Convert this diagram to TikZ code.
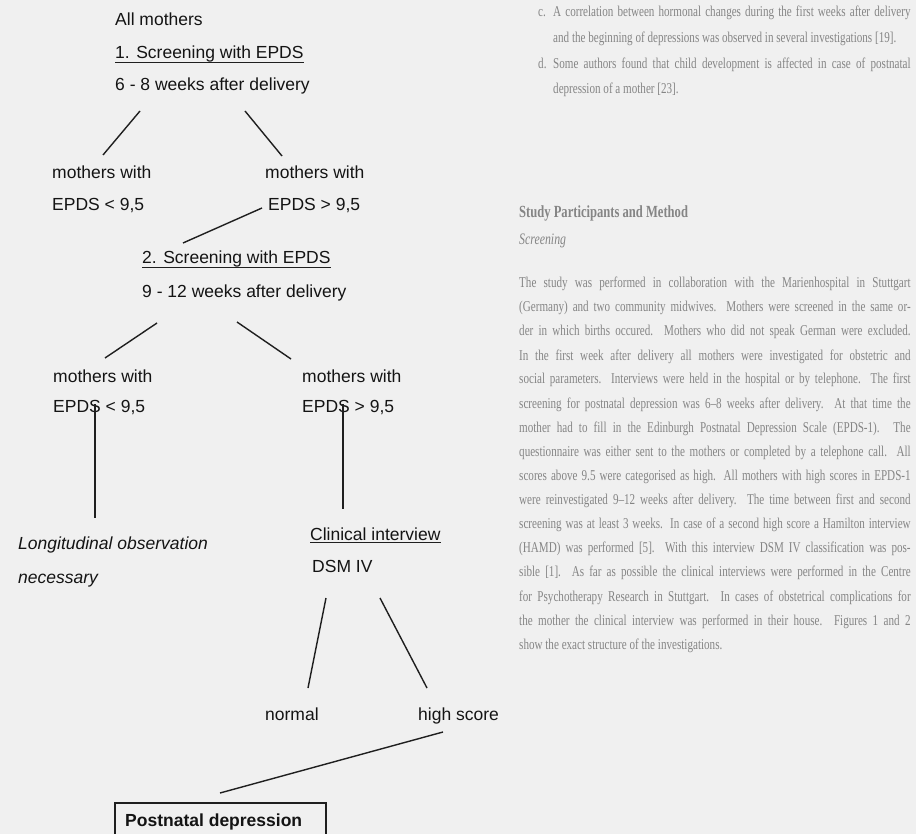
\documentclass[tikz,border=0pt]{standalone}
\usepackage{fontspec}
\setmainfont{Liberation Serif}
\newfontfamily\diafont{Liberation Sans}
\usetikzlibrary{calc}
\newcommand\bgjust[2]{\scalebox{0.74}[1]{\makebox[#1pt][s]{#2}}}
\newcommand\bgnat[1]{\scalebox{0.74}[1]{#1}}
\begin{document}
\begin{tikzpicture}[x=1pt,y=-1pt,
  lbl/.style={font=\diafont\fontsize{17.5}{20}\selectfont, text=black!92, anchor=base west, inner sep=0pt},
  conn/.style={line width=1.4pt, draw=black!88},
  uline/.style={line width=1.1pt, draw=black!88},
  bgt/.style={font=\fontsize{15}{17}\selectfont, text=black!48, anchor=base west, inner sep=0pt}]
\fill[black!6] (0,0) rectangle (916,834);
\useasboundingbox (0,0) rectangle (916,834);
\clip (0,0) rectangle (916,834);

% faint page text in the background
\node[bgt] (bga) at (538,17) {\bgnat{c.}};
\node[bgt] (bg1) at (553,17) {\bgjust{483}{A correlation between hormonal changes during the first weeks after delivery}};
\node[bgt] (bg2) at (553,43) {\bgnat{and the beginning of depressions was observed in several investigations [19].}};
\node[bgt] (bgd) at (538,69) {\bgnat{d.}};
\node[bgt] (bg3) at (553,69) {\bgjust{483}{Some authors found that child development is affected in case of postnatal}};
\node[bgt] (bg4) at (553,94) {\bgnat{depression of a mother [23].}};
\node[bgt, font=\bfseries\fontsize{17}{19}\selectfont] (bgh) at (519,218) {\bgnat{Study Participants and Method}};
\node[bgt, font=\itshape\fontsize{16}{18}\selectfont] (bgs) at (519,245) {\bgnat{Screening}};
\node[bgt] (p1) at (519,288) {\bgjust{529}{The study was performed in collaboration with the Marienhospital in Stuttgart}};
\node[bgt] (p2) at (519,312) {\bgjust{529}{(Germany) and two community midwives. Mothers were screened in the same or-}};
\node[bgt] (p3) at (519,336) {\bgjust{529}{der in which births occured. Mothers who did not speak German were excluded.}};
\node[bgt] (p4) at (519,360) {\bgjust{529}{In the first week after delivery all mothers were investigated for obstetric and}};
\node[bgt] (p5) at (519,384) {\bgjust{529}{social parameters. Interviews were held in the hospital or by telephone. The first}};
\node[bgt] (p6) at (519,408) {\bgjust{529}{screening for postnatal depression was 6–8 weeks after delivery. At that time the}};
\node[bgt] (p7) at (519,432) {\bgjust{529}{mother had to fill in the Edinburgh Postnatal Depression Scale (EPDS-1). The}};
\node[bgt] (p8) at (519,456) {\bgjust{529}{questionnaire was either sent to the mothers or completed by a telephone call. All}};
\node[bgt] (p9) at (519,480) {\bgjust{529}{scores above 9.5 were categorised as high. All mothers with high scores in EPDS-1}};
\node[bgt] (p10) at (519,504) {\bgjust{529}{were reinvestigated 9–12 weeks after delivery. The time between first and second}};
\node[bgt] (p11) at (519,528) {\bgjust{529}{screening was at least 3 weeks. In case of a second high score a Hamilton interview}};
\node[bgt] (p12) at (519,552) {\bgjust{529}{(HAMD) was performed [5]. With this interview DSM IV classification was pos-}};
\node[bgt] (p13) at (519,576) {\bgjust{529}{sible [1]. As far as possible the clinical interviews were performed in the Centre}};
\node[bgt] (p14) at (519,601) {\bgjust{529}{for Psychotherapy Research in Stuttgart. In cases of obstetrical complications for}};
\node[bgt] (p15) at (519,625) {\bgjust{529}{the mother the clinical interview was performed in their house. Figures 1 and 2}};
\node[bgt] (p16) at (519,649) {\bgnat{show the exact structure of the investigations.}};

% diagram texts
\node[lbl] (am) at (115,26) {All mothers};
\node[lbl] (s1) at (115,59) {1. Screening with EPDS};
\node[lbl] (w1) at (115,91) {6 - 8 weeks after delivery};
\node[lbl] (m1a) at (52,179) {mothers with};
\node[lbl] (e1a) at (52,211) {EPDS < 9,5};
\node[lbl] (m1b) at (265,179) {mothers with};
\node[lbl] (e1b) at (268,211) {EPDS > 9,5};
\node[lbl] (s2) at (142,264) {2. Screening with EPDS};
\node[lbl] (w2) at (142,298) {9 - 12 weeks after delivery};
\node[lbl] (m2a) at (53,382) {mothers with};
\node[lbl] (e2a) at (53,413) {EPDS < 9,5};
\node[lbl] (m2b) at (302,382) {mothers with};
\node[lbl] (e2b) at (302,413) {EPDS > 9,5};
\node[lbl, font=\diafont\itshape\fontsize{17.5}{20}\selectfont] (lo) at (18,549) {Longitudinal observation};
\node[lbl, font=\diafont\itshape\fontsize{17.5}{20}\selectfont] (ne) at (18,583) {necessary};
\node[lbl] (ci) at (310,540) {Clinical interview};
\node[lbl] (dsm) at (312,572) {DSM IV};
\node[lbl] (no) at (265,720) {normal};
\node[lbl] (hs) at (418,720) {high score};
\draw[line width=1.2pt, draw=black!88] (115,803) rectangle (326,870);
\node[lbl, font=\diafont\bfseries\fontsize{17.5}{20}\selectfont] (pd) at (125,826) {Postnatal depression};

% underlines
\draw[uline] ($(s1.base west)+(0,3.5)$) -- ($(s1.base east)+(0,3.5)$);
\draw[uline] ($(s2.base west)+(0,3.5)$) -- ($(s2.base east)+(0,3.5)$);
\draw[uline] ($(ci.base west)+(0,2.5)$) -- ($(ci.base east)+(0,2.5)$);

% connector end points
\coordinate (c1) at (140,111); \coordinate (c2) at (103,155);
\coordinate (c3) at (245,111); \coordinate (c4) at (282,156);
\coordinate (c5) at (262,208); \coordinate (c6) at (183,243);
\coordinate (c7) at (157,323); \coordinate (c8) at (105,358);
\coordinate (c9) at (237,322); \coordinate (c10) at (291,359);
\coordinate (c11) at (95,404); \coordinate (c12) at (95,518);
\coordinate (c13) at (343,404); \coordinate (c14) at (343,509);
\coordinate (c15) at (326,598); \coordinate (c16) at (308,688);
\coordinate (c17) at (380,598); \coordinate (c18) at (427,688);
\coordinate (c19) at (443,732); \coordinate (c20) at (220,793);

\draw[conn] (c1) -- (c2);
\draw[conn] (c3) -- (c4);
\draw[conn] (c5) -- (c6);
\draw[conn] (c7) -- (c8);
\draw[conn] (c9) -- (c10);
\draw[conn] (c11) -- (c12);
\draw[conn] (c13) -- (c14);
\draw[conn] (c15) -- (c16);
\draw[conn] (c17) -- (c18);
\draw[conn] (c19) -- (c20);
\end{tikzpicture}
\end{document}
